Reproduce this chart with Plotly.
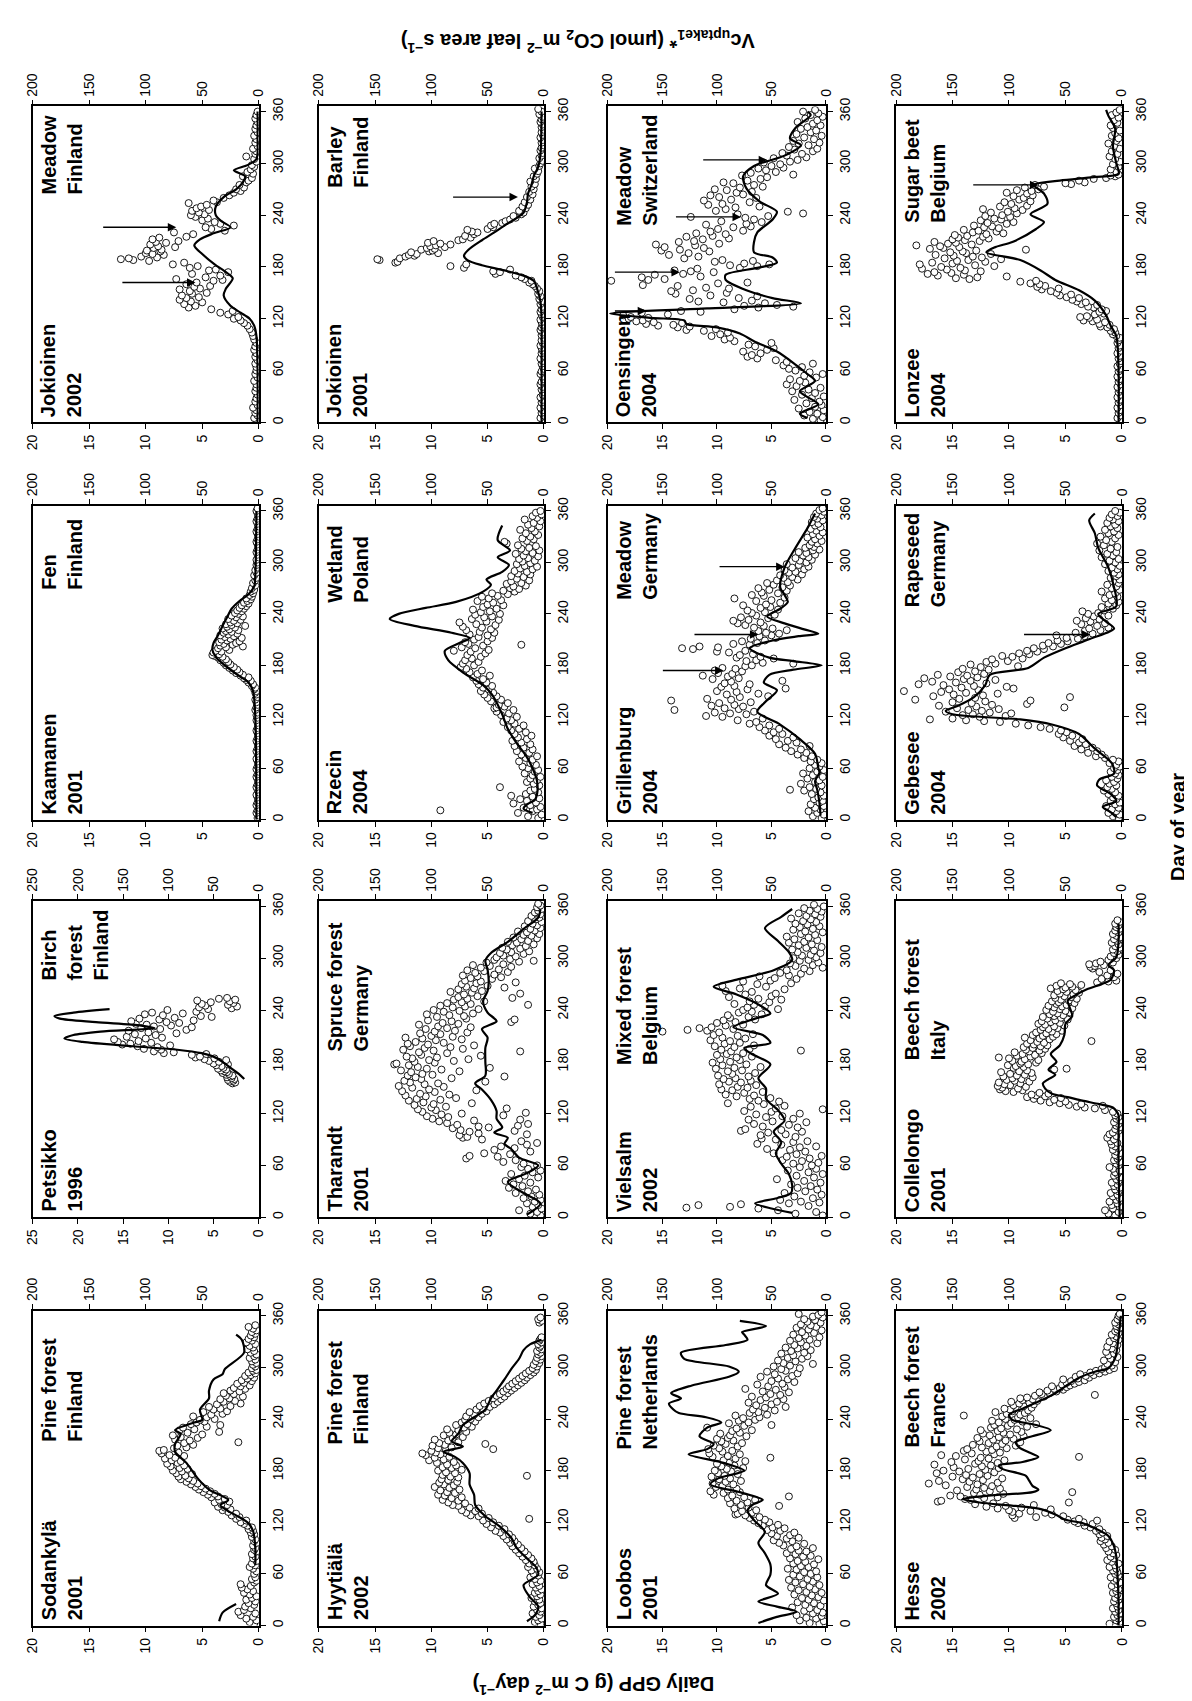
import plotly.graph_objects as go

W, H = 1192, 1701
COLS_PX = [(17, 246), (307, 535), (600, 821), (892, 1121)]
ROWS_PX = [(90, 408), (492, 808), (890, 1208), (1302, 1619)]
DAY_MAX = 366
DAY_TICKS = [0, 60, 120, 180, 240, 300, 360]

# ---------------- data: (day, GPP) points, (day, Vc) line, arrows (day, tail GPP, head GPP)
JOK02_PTS = [(2,0.2),(5,0.4),(8,0.1),(11,0.3),(14,0.2),(17,0.5),(20,0.1),(24,0.3),(28,0.2),(32,0.1),(36,0.3),(40,0.2),(44,0.2),(48,0.4),(52,0.1),(56,0.3),(60,0.2),(64,0.2),(68,0.3),(72,0.1),(76,0.3),(80,0.2),(84,0.4),(88,0.3),(92,0.2),(96,0.4),(100,0.5),(104,0.6),(108,0.8),
 (112,1.0),(115,1.3),(118,1.6),(120,2.2),(122,1.8),(125,2.7),(127,3.4),(129,2.3),
 (131,4.2),(133,6.2),(135,5.6),(137,6.6),(139,5.0),(140,6.0),(142,7.0),(144,6.4),(145,5.3),(147,6.8),(149,5.9),(150,4.6),(152,6.1),(154,7.0),(155,5.2),(157,5.7),(158,4.3),(160,6.4),(162,5.5),(164,4.0),(165,3.2),(166,7.3),(168,4.7),(170,3.4),(172,5.9),(174,2.7),(176,4.4),(177,3.8),
 (179,6.1),(181,5.4),(183,7.6),(185,6.6),(187,9.7),(188,11.1),(189,12.2),(190,11.5),(191,9.0),(192,10.4),(194,8.4),(195,9.4),(196,10.0),(198,8.7),(199,9.9),(200,8.6),(202,9.3),(203,7.4),(204,8.9),(206,9.6),(208,8.2),(209,9.1),(210,7.1),(212,9.4),(214,8.8),(215,6.4),
 (218,5.8),(220,7.5),(222,3.0),(224,4.2),(226,4.7),(228,2.2),(230,3.4),(232,3.9),(234,5.0),(236,4.5),(238,5.6),(240,6.0),(241,4.8),(243,5.3),(245,5.9),(246,4.4),(248,5.5),(250,5.1),(252,4.6),(254,6.2),(255,3.7),(257,4.0),
 (260,3.1),(263,2.6),(266,2.2),(268,1.6),(270,2.0),(272,1.3),(275,1.7),(278,1.1),(280,0.9),(283,0.6),(285,1.4),(288,0.5),(290,1.0),(293,0.7),(296,0.4),(298,0.6),
 (302,0.2),(305,0.4),(308,1.1),(311,0.3),(314,0.2),(317,0.5),(320,0.1),(324,0.3),(328,0.2),(332,0.4),(336,0.1),(340,0.3),(344,0.2),(348,0.1),(352,0.3),(356,0.2),(360,0.1)]
JOK02_LINE = [(0,1),(60,1),(100,2),(112,4),(120,8),(127,16),(135,25),(147,31),(155,29),(167,23),(175,30),(183,39),(195,50),(205,57),(212,52),(219,40),(226,25),(233,33),(240,38),(250,38),(261,31),(270,20),(278,14),(285,12),(292,22),(298,10),(305,2),(330,1),(360,1)]
JOK02_ARROWS = [(162, 12.2, 5.6), (226, 13.9, 7.3)]

JOK01_PTS = [(2,0.1),(5,0.3),(8,0.0),(11,0.2),(14,0.1),(17,0.3),(20,0.0),(23,0.2),(26,0.1),(29,0.3),(32,0.1),(35,0.0),(38,0.2),(41,0.1),(44,0.3),(47,0.2),(50,0.0),(53,0.1),(56,0.3),(59,0.2),(62,0.0),(65,0.1),(68,0.2),(71,0.1),(74,0.3),(77,0.0),(80,0.2),(83,0.1),(86,0.2),(89,0.3),(92,0.1),(95,0.2),(98,0.0),(101,0.2),(104,0.1),(107,0.3),(110,0.2),(113,0.1),(116,0.2),(119,0.3),(122,0.1),(125,0.2),(128,0.3),(131,0.2),(134,0.1),(137,0.3),(140,0.2),(143,0.4),(146,0.3),(149,0.5),
 (152,0.4),(155,0.6),(158,0.8),(160,1.0),(162,1.3),(164,1.1),(166,1.7),(168,2.0),(170,2.5),
 (172,4.3),(174,3.9),(175,4.5),(177,3.0),(179,7.1),(181,8.3),(183,6.9),
 (185,13.2),(186,13.0),(188,14.6),(189,14.8),(190,12.8),(192,12.3),(193,11.5),(194,12.0),(195,11.3),(196,9.4),(197,11.8),(198,10.2),(199,9.9),(200,10.9),(201,9.7),(202,10.4),(203,8.8),(204,10.1),(205,9.6),(206,8.3),(207,9.2),(208,10.3),(210,9.8),(211,7.6),(212,7.2),(214,6.5),(216,7.0),(218,6.2),(220,5.9),(221,6.4),(223,6.8),(224,5.0),(226,4.5),(228,4.7),(230,4.4),(231,3.7),(233,3.4),(235,3.0),(237,2.5),(239,2.7),(241,2.0),(243,1.8),(245,2.2),(248,1.6),(250,1.9),(252,1.4),(255,1.7),(258,1.2),(261,1.5),(264,1.0),(267,1.3),(270,0.9),(273,1.1),(276,0.8),(279,1.2),(282,0.7),(285,0.9),(288,0.6),(291,0.5),(294,0.8),(297,0.4),
 (300,0.3),(303,0.1),(306,0.4),(309,0.2),(312,0.1),(315,0.3),(318,0.2),(321,0.0),(324,0.2),(327,0.1),(330,0.3),(333,0.1),(336,0.2),(339,0.0),(342,0.2),(345,0.1),(348,0.3),(351,0.2),(354,0.1),(357,0.4),(360,0.2),(363,0.5)]
JOK01_LINE = [(0,2),(60,2),(120,2),(140,3),(155,6),(164,9),(170,18),(176,35),(182,55),(188,68),(193,71),(200,67),(211,55),(220,44),(228,35),(236,25),(243,18),(255,15),(265,14),(275,11),(285,9),(296,5),(310,3),(360,2)]
JOK01_ARROWS = [(261, 8.2, 2.3)]

OENS_PTS = [(2,0.5),(4,1.2),(6,0.3),(8,2.0),(10,0.8),(12,1.5),(14,0.2),(16,2.5),(18,1.0),(20,0.4),(22,1.8),(24,0.6),(26,2.9),(28,1.3),(30,0.2),(32,2.2),(34,1.0),(36,3.1),(38,1.6),(40,0.5),(42,2.7),(44,3.6),(46,1.9),(48,2.4),(50,3.3),(52,0.9),(54,2.0),(56,0.3),(58,1.5),(60,2.8),
 (62,3.4),(64,2.2),(66,3.9),(68,1.2),(70,3.6),(72,4.6),(74,6.3),(76,7.2),(78,6.8),(80,6.0),(82,7.6),(84,5.4),(86,4.8),(88,6.5),(90,7.1),(92,5.0),(94,8.4),(96,9.3),(98,8.8),(100,10.5),(102,9.7),
 (104,9.0),(106,11.2),(107,12.8),(108,10.1),(110,13.6),(111,12.5),(112,15.4),(113,14.0),(114,16.5),(115,13.2),(116,15.8),(117,17.4),(118,16.8),(120,18.1),(121,16.3),(122,17.9),(124,18.6),(125,14.5),(127,16.9),(128,11.5),(129,13.3),
 (131,8.4),(133,6.2),(134,3.0),(135,7.5),(136,4.5),(138,5.6),(139,9.4),(140,11.7),(141,6.8),(143,12.5),(144,8.0),(146,6.3),(147,10.6),(149,13.8),(150,9.1),(152,14.2),(153,12.2),(155,8.9),(156,11.0),(158,13.6),(159,16.8),(161,9.9),(162,7.2),(164,19.7),(165,16.3),(166,14.8),(168,16.9),(169,11.5),(171,15.7),(172,13.1),(174,10.3),(175,12.4),(176,13.9),(178,11.8),(179,7.9),
 (181,6.3),(182,8.8),(183,5.2),(184,7.5),(186,10.2),(187,6.7),(188,9.5),(190,13.0),(192,11.7),(194,14.4),(196,12.6),(198,10.7),(199,15.1),(200,13.4),(202,11.2),(203,14.8),(205,12.0),(206,15.6),(207,9.8),(209,13.5),(210,12.1),(212,11.3),(213,8.9),(215,12.8),(216,10.4),(218,9.2),(219,11.9),(221,10.6),(222,7.6),(224,9.9),(226,8.5),(227,6.9),(229,11.0),(230,7.3),(232,5.9),(233,9.6),(235,6.6),(237,7.4),(238,12.4),(239,5.3),(241,8.1),(242,2.1),(244,3.5),(245,10.1),(247,9.2),(249,8.3),(250,6.1),(252,10.8),(253,9.5),(255,7.0),(257,11.2),(258,8.7),
 (260,6.4),(261,9.8),(263,10.6),(264,7.6),(266,8.2),(267,6.8),(269,9.1),(270,10.2),(272,7.9),(273,5.8),(275,6.6),(277,8.5),(278,9.4),(280,7.2),(282,6.0),(284,5.4),(286,7.7),(287,3.0),(289,6.9),(290,4.6),(292,5.5),(294,6.2),(295,3.9),(297,5.0),(299,4.2),
 (301,5.7),(302,3.3),(304,2.6),(306,4.8),(307,1.8),(309,3.6),(311,2.2),(312,4.0),(314,1.2),(316,2.9),(317,0.8),(319,3.4),(321,1.6),(323,2.5),(324,0.6),(326,3.0),(328,1.1),(330,2.0),(332,0.4),(334,2.7),(336,1.4),(338,0.9),(340,2.3),(342,1.7),(344,0.5),(346,1.2),(348,2.6),(350,0.8),(352,1.9),(354,0.3),(356,1.4),(358,0.7),(360,2.1),(362,1.0)]
OENS_LINE = [(5,17),(10,24),(21,7),(30,18),(36,24),(48,10),(56,17),(67,28),(82,45),(94,66),(103,79),(110,100),(114,128),(118,130),(121,160),(126,198),(132,109),(138,23),(144,49),(153,73),(165,92),(171,92),(179,63),(185,45),(191,49),(197,66),(209,66),(220,63),(235,49),(244,45),(256,61),(271,73),(285,76),(297,66),(309,38),(321,23),(329,33),(341,28),(356,14),(360,17)]
OENS_ARROWS = [(129, 19.5, 16.5), (174, 19.5, 13.4), (238, 13.9, 7.8), (304, 11.4, 5.4)]

LONZ_PTS = [(2,0.2),(5,0.4),(8,0.1),(11,0.3),(14,0.2),(17,0.4),(20,0.1),(23,0.3),(26,0.2),(29,0.4),(32,0.1),(35,0.3),(38,0.2),(41,0.4),(44,0.1),(47,0.3),(50,0.2),(53,0.4),(56,0.1),(59,0.3),(62,0.2),(65,0.4),(68,0.2),(71,0.1),(74,0.3),(77,0.2),(80,0.4),(83,0.1),(86,0.3),(89,0.2),(92,0.4),(95,0.3),(98,0.2),
 (100,0.5),(102,0.8),(104,0.6),(106,1.0),(108,0.7),(110,1.3),(111,1.9),(113,1.1),(114,2.0),(116,1.5),(117,2.6),(118,3.4),(119,2.2),(121,2.9),(122,3.7),(123,3.1),(125,2.4),(126,1.6),(128,2.0),(129,1.4),(131,1.8),(133,2.5),(134,3.0),(136,2.2),(137,3.6),(139,3.2),(140,4.0),
 (142,4.4),(144,3.8),(145,4.9),(147,5.5),(148,4.5),(150,5.8),(152,6.3),(154,7.1),(155,5.6),(157,7.5),(158,6.8),(160,7.3),(161,8.1),(163,9.0),(164,7.6),
 (166,13.5),(167,14.7),(168,12.8),(169,10.2),(170,16.3),(171,14.0),(172,17.2),(173,15.1),(174,16.6),(175,12.5),(176,13.9),(177,15.5),(178,17.7),(179,14.3),(180,16.0),(181,11.3),(182,13.0),(183,17.9),(184,15.0),(185,16.8),(186,12.1),(187,14.6),(188,13.6),(189,10.7),(190,15.7),(191,12.4),(192,13.2),(193,14.9),(194,16.5),(195,11.6),(196,13.8),(197,15.2),(198,14.1),(199,12.9),(200,8.5),
 (201,17.0),(202,15.8),(203,14.4),(204,16.1),(205,18.2),(206,13.3),(207,15.4),(208,14.7),(209,16.6),(210,12.6),(211,13.9),(212,15.0),(213,11.8),(214,14.5),(215,12.3),(216,13.7),(217,14.8),(218,12.0),(219,10.5),(220,13.2),(221,11.1),(222,12.7),(223,14.0),(225,10.9),(226,12.2),(227,11.5),(228,13.1),(230,10.2),(231,11.9),(232,9.6),(234,12.5),(235,10.7),(236,11.3),(238,9.9),(239,12.1),(240,10.6),(242,9.3),(243,11.6),(244,10.1),(246,8.8),(247,12.3),(248,9.5),(250,10.8),(251,8.4),(253,9.8),(255,10.4),(256,8.1),(258,9.1),
 (260,8.7),(262,9.6),(263,7.9),(265,8.4),(266,10.2),(268,8.0),(269,9.3),(270,7.4),(272,8.6),(273,6.9),(275,7.7),(276,4.5),(277,5.0),(278,3.3),(280,3.8),(282,2.5),(283,1.4),(285,0.6),(286,1.0),(287,0.3),
 (290,0.5),(293,1.0),(296,0.3),(299,0.8),(302,0.2),(305,0.6),(308,1.1),(311,0.4),(314,0.9),(317,0.2),(320,0.7),(323,1.2),(326,0.5),(329,0.3),(332,0.9),(335,0.6),(338,0.2),(341,0.8),(344,1.0),(347,0.4),(350,0.7),(353,0.3),(356,0.9),(359,0.5),(362,0.2)]
LONZ_LINE = [(0,3),(60,3),(100,5),(112,10),(124,14),(141,24),(153,38),(165,59),(176,72),(188,90),(197,120),(203,112),(209,97),(224,76),(232,69),(241,81),(253,66),(265,69),(275,78),(280,55),(284,25),(288,3),(300,5),(320,8),(340,6),(355,12),(362,14)]
LONZ_ARROWS = [(275, 13.3, 7.4)]

KAAM_PTS = [(2,0.1),(5,0.0),(8,0.2),(11,0.1),(14,0.0),(17,0.2),(20,0.1),(23,0.0),(26,0.1),(29,0.2),(32,0.0),(35,0.1),(38,0.2),(41,0.1),(44,0.0),(47,0.1),(50,0.2),(53,0.1),(56,0.0),(59,0.2),(62,0.1),(65,0.0),(68,0.1),(71,0.2),(74,0.0),(77,0.1),(80,0.2),(83,0.1),(86,0.0),(89,0.1),(92,0.2),(95,0.1),(98,0.0),(101,0.1),(104,0.2),(107,0.1),(110,0.0),(113,0.1),(116,0.2),(119,0.1),(122,0.2),(125,0.1),(128,0.3),(131,0.2),(134,0.1),(137,0.2),(140,0.3),(143,0.1),(146,0.2),(148,0.3),
 (150,0.2),(152,0.4),(154,0.3),(156,0.6),(158,0.5),(160,0.9),(162,0.7),(163,1.1),(165,1.3),(166,0.9),(168,1.6),(169,1.4),(171,2.0),(172,1.7),(174,2.3),(175,1.9),(177,2.6),(178,2.2),(180,2.9),
 (181,2.5),(183,3.1),(184,2.7),(186,3.4),(187,2.9),(189,3.6),(190,3.2),(191,3.9),(192,4.1),(193,3.5),(195,4.0),(196,3.3),(197,3.8),(198,2.6),(200,3.6),(201,2.9),(202,1.4),(203,3.4),(204,2.3),(205,3.1),(206,2.0),(207,3.5),(208,1.7),(209,2.8),(210,3.3),
 (211,2.5),(212,1.5),(213,3.0),(214,2.2),(215,3.4),(216,2.7),(217,1.9),(218,3.1),(219,2.4),(220,2.9),(221,1.8),(222,2.6),(223,3.2),(224,2.1),(225,2.8),(226,1.2),(227,2.4),(228,2.9),(229,1.9),(230,2.5),(232,2.2),(233,1.6),(234,2.7),(236,2.0),(237,1.4),(238,2.4),(240,1.8),(241,2.1),(243,1.5),(244,1.9),(246,1.3),(247,1.7),(249,1.1),(250,1.5),(252,0.9),(253,1.3),(255,1.0),(257,0.7),(258,1.1),(260,0.6),
 (262,0.8),(264,0.5),(266,0.7),(268,0.4),(270,0.6),(273,0.3),(276,0.5),(279,0.3),(282,0.2),(285,0.4),(288,0.2),(291,0.3),(294,0.1),(297,0.2),
 (300,0.1),(303,0.2),(306,0.0),(309,0.1),(312,0.2),(315,0.1),(318,0.0),(321,0.1),(324,0.2),(327,0.1),(330,0.0),(333,0.1),(336,0.2),(339,0.1),(342,0.0),(345,0.1),(348,0.2),(351,0.1),(354,0.0),(357,0.1),(360,0.2),(363,0.1)]
KAAM_LINE = [(0,2),(120,3),(150,5),(160,9),(170,20),(180,30),(190,38),(198,41),(206,40),(215,36),(226,32),(236,28),(246,24),(255,17),(263,9),(272,4),(285,3),(360,2)]
KAAM_ARROWS = []

RZEC_PTS = [(2,0.5),(4,1.4),(6,0.2),(8,2.3),(10,1.0),(11,9.2),(12,0.6),(14,1.8),(15,0.3),(17,1.2),(19,2.7),(20,0.7),(22,1.5),(24,2.1),(25,0.4),(27,1.0),(28,2.9),(30,1.6),(32,0.5),(34,1.2),(36,0.8),(38,3.9),(40,0.4),
 (42,0.9),(44,1.5),(46,0.6),(48,1.2),(50,0.3),(52,1.0),(54,1.7),(56,0.8),(58,0.5),(60,1.4),(62,1.9),(64,0.7),(66,1.2),(68,2.2),(70,1.0),(72,1.6),(74,0.6),(76,2.0),(78,1.3),(80,2.4),(82,1.0),(84,1.8),(86,2.6),(88,1.2),(90,2.0),(92,2.8),(94,1.5),(96,2.3),(98,1.1),(100,2.6),
 (102,1.6),(104,2.9),(106,2.2),(108,3.2),(110,1.8),(112,2.6),(114,3.6),(116,2.9),(118,3.3),(120,2.4),(122,3.8),(124,3.1),(126,4.2),(128,2.7),(130,4.4),(131,4.2),(132,3.5),(134,4.0),(136,3.2),(138,4.7),(140,3.8),(142,5.0),(144,4.2),(146,5.3),(148,4.5),(150,5.6),(152,4.9),(154,5.4),(156,4.6),(158,5.8),(160,5.1),(162,6.0),(164,5.4),(166,6.3),(168,4.8),(170,5.9),(172,6.6),(174,5.5),
 (176,6.9),(178,7.4),(180,6.2),(182,7.2),(184,5.8),(186,7.0),(188,6.4),(190,5.6),(192,6.8),(194,5.2),(196,6.5),(197,8.0),(198,4.9),(200,6.1),(201,7.3),(203,5.4),(204,2.0),(205,6.7),(207,7.0),(208,5.0),(210,6.2),(212,4.6),(213,5.8),(215,5.0),(216,6.6),(218,4.4),(219,5.7),(221,6.9),(222,4.7),(224,5.5),(225,7.2),(227,4.3),(228,6.0),(230,7.5),(231,5.1),(233,4.0),(234,6.4),(236,5.3),(237,4.6),(239,6.1),(240,3.9),(242,5.6),(243,4.8),(245,6.3),(246,4.2),(248,5.4),(250,3.6),(251,5.0),(253,4.5),(255,5.9),(256,3.8),(258,4.9),
 (260,5.5),(261,4.1),(263,3.2),(264,4.6),(266,2.6),(267,3.6),(269,2.2),(270,3.0),(272,2.7),(273,1.6),(275,3.3),(276,2.0),(278,2.9),(279,1.3),(281,2.4),(283,1.8),(284,2.9),(286,1.2),(287,2.3),(289,1.5),(290,2.6),(292,1.0),(293,2.1),(295,0.6),(296,1.7),(298,2.4),(299,1.2),
 (301,1.9),(302,0.8),(304,2.2),(305,1.4),(307,0.5),(308,1.8),(310,2.5),(311,1.0),(313,1.6),(314,0.4),(316,2.0),(317,1.3),(319,0.7),(320,2.3),(322,3.3),(324,3.5),(325,1.5),(327,0.9),(328,1.9),(330,1.2),(332,0.5),(334,1.6),(336,0.8),(338,2.1),(340,1.1),(342,0.4),(344,1.4),(346,0.9),(348,0.3),(350,1.7),(352,0.6),(354,1.0),(356,0.2),(358,0.7),(360,0.3)]
RZEC_LINE = [(8,10),(13,18),(18,15),(23,8),(30,6),(45,6),(60,10),(75,16),(89,24),(106,32),(123,37),(146,46),(157,54),(171,71),(186,85),(197,88),(206,75),(212,66),(218,82),(226,115),(234,137),(240,129),(247,105),(254,78),(266,54),(274,47),(280,51),(289,37),(297,31),(306,41),(314,30),(326,41),(343,37)]
RZEC_ARROWS = []

GRIL_PTS = [(2,0.4),(4,1.2),(6,0.2),(8,0.8),(10,1.6),(12,0.5),(14,1.0),(16,0.2),(18,1.4),(20,0.6),(22,0.3),(24,1.1),(26,0.7),(28,0.2),(30,1.3),(32,0.5),(34,2.0),(35,3.3),(36,0.9),(38,1.5),(40,0.4),(42,2.3),(44,1.0),(46,0.6),(48,1.7),(50,0.3),(52,1.2),(54,2.1),(56,0.8),(58,0.2),(60,1.5),
 (62,0.6),(64,1.0),(66,0.4),(68,1.4),(70,0.8),(72,2.0),(74,1.3),(76,2.6),(78,1.8),(80,3.2),(82,2.3),(84,3.7),(86,1.5),(88,4.3),(90,2.7),(92,3.5),(94,4.6),(96,3.0),(98,5.2),(100,4.0),
 (102,4.8),(104,5.6),(106,4.3),(108,6.1),(110,5.2),(112,7.0),(114,6.4),(116,8.1),(118,5.8),(120,9.5),(121,11.0),(123,7.3),(124,8.8),(125,10.2),(126,6.6),(128,13.9),(129,8.0),(130,9.3),(132,7.6),(133,10.5),(134,8.4),(136,9.8),(137,6.9),(139,14.2),(140,8.7),(141,10.9),(143,7.9),(144,5.3),(146,9.1),(147,6.2),(149,8.2),(150,10.0),(152,7.2),(153,3.7),(155,9.6),(156,8.4),(158,7.0),(159,9.3),(161,8.7),(162,4.0),(164,10.4),(165,8.0),(167,9.0),(168,11.3),(170,8.6),(171,9.9),(173,7.7),(174,10.2),(176,8.3),(177,9.5),(179,7.4),
 (180,6.8),(182,3.0),(183,5.8),(185,7.3),(186,6.4),(188,4.8),(189,8.2),(190,6.0),(192,7.9),(193,6.7),(195,8.9),(196,10.0),(197,7.4),(199,12.2),(200,13.2),(201,9.9),(202,11.6),(204,7.0),(205,8.5),(206,6.3),(208,7.7),(209,5.6),(211,6.9),(212,4.6),(214,6.1),(215,5.0),(217,4.3),(218,5.5),(220,6.2),(221,3.6),(223,4.9),(224,6.6),(226,5.7),(227,7.4),(229,8.1),(230,6.0),(232,8.5),(233,7.1),(235,5.3),(236,7.8),(238,6.4),(239,4.7),(241,6.8),(242,5.6),(244,7.2),(245,4.4),(247,6.0),(248,5.1),(250,7.6),(251,5.5),(253,4.2),(255,6.4),(256,5.0),(258,8.4),(259,3.8),
 (261,5.7),(262,6.8),(264,4.4),(265,5.9),(267,3.6),(268,5.2),(270,6.2),(271,4.0),(273,3.3),(274,4.8),(276,5.4),(277,3.5),(279,4.5),(280,2.6),(282,3.9),(283,3.1),(285,4.2),(286,2.2),(288,3.4),(289,2.8),(291,3.8),(292,2.0),(294,3.1),(295,1.6),(297,2.5),(298,3.6),(300,1.8),
 (302,2.4),(303,1.3),(305,2.8),(306,1.6),(308,2.1),(309,1.0),(311,1.8),(312,2.5),(314,1.2),(315,0.6),(317,1.9),(318,1.1),(320,1.5),(322,0.8),(324,1.3),(325,0.4),(327,1.0),(329,1.7),(331,0.6),(333,1.2),(335,0.3),(337,0.9),(339,1.4),(341,0.5),(343,1.0),(345,0.7),(347,1.3),(349,0.3),(351,0.8),(353,1.1),(355,0.4),(357,0.9),(359,0.2),(361,0.6),(363,0.3)]
GRIL_LINE = [(5,5),(20,6),(35,8),(45,10),(55,6),(60,7),(77,10),(94,24),(111,42),(126,63),(137,56),(151,45),(160,57),(169,52),(175,30),(180,4),(185,30),(189,52),(200,70),(209,49),(214,25),(217,7),(222,20),(229,38),(237,54),(246,42),(254,35),(262,38),(271,42),(294,38),(317,28),(340,17),(357,10)]
GRIL_ARROWS = [(174, 15.1, 9.4), (216, 12.2, 6.2), (295, 9.9, 3.8)]

GEBE_PTS = [(2,0.3),(4,0.8),(6,0.2),(8,1.2),(10,0.5),(12,0.9),(14,0.3),(16,1.4),(18,0.6),(20,0.2),(22,1.0),(24,0.5),(26,0.8),(28,0.3),(30,1.2),(32,0.6),(34,1.6),(36,0.9),(38,1.3),(40,0.5),(42,1.1),(44,0.7),(46,1.4),(48,0.4),(50,0.9),(52,0.3),(54,0.6),(56,1.0),(58,0.4),(60,0.7),(62,0.2),(64,0.5),(66,1.1),(68,0.3),(70,0.8),
 (72,1.5),(74,2.3),(76,1.8),(78,3.0),(80,2.2),(82,3.6),(84,2.6),(86,4.2),(88,3.2),(90,3.8),(92,4.6),(94,3.5),(96,5.2),(98,4.4),(100,5.6),(102,4.9),(104,5.4),(106,6.4),(108,7.2),(110,8.3),(112,9.4),(114,10.8),(115,12.2),
 (116,13.8),(117,17.0),(118,15.0),(120,12.6),(121,10.3),(122,14.1),(123,13.2),(124,9.8),(125,11.7),(126,15.6),(127,12.4),(128,13.6),(129,10.9),(130,14.6),(131,5.1),(132,12.9),(133,16.2),(134,11.5),(135,8.4),(136,13.3),(137,15.0),(138,12.1),(139,8.1),(140,18.3),(141,14.4),(142,13.0),(143,4.6),(144,16.7),(145,12.3),(146,14.9),(147,11.0),(148,13.8),(149,16.0),(150,19.3),(151,12.7),(152,15.3),(153,9.6),(154,14.2),(155,10.2),(156,13.1),(157,15.8),(158,18.0),(159,12.0),(160,14.7),(161,16.8),(162,13.4),(163,11.2),(164,14.0),(165,17.5),(166,12.8),(167,15.2),(168,13.7),(169,16.3),(170,12.2),(172,14.5),(173,13.0),(175,11.8),(176,14.1),(178,12.5),(179,9.2),
 (181,13.4),(182,11.2),(184,12.0),(185,10.1),(187,11.5),(188,8.8),(190,9.7),(191,10.6),(193,8.2),(194,9.1),(196,7.5),(197,8.4),(199,6.9),(200,7.8),(202,6.1),(203,7.0),(205,5.4),(206,6.5),(208,4.8),(209,5.7),(211,3.9),(212,4.9),(214,3.3),(215,5.8),(217,2.6),(218,4.1),(220,3.3),(221,1.9),(223,2.9),(224,1.2),
 (226,2.2),(228,3.6),(229,1.5),(231,2.8),(232,4.0),(234,2.0),(235,3.2),(237,2.5),(238,1.2),(240,3.0),(241,2.1),(243,3.5),(244,1.6),(246,0.8),(248,1.8),(250,0.5),(252,1.2),(254,0.3),(256,0.9),(258,1.5),(260,0.4),(262,1.1),(264,0.6),(266,1.8),(268,0.2),(270,0.9),(272,0.5),(274,1.3),(276,0.3),(278,0.8),(280,0.2),(282,1.0),(284,0.5),(286,0.3),(288,0.7),(290,1.2),(292,0.4),(294,0.9),(296,0.2),(298,1.5),(300,0.6),(302,1.1),(304,0.3),(306,1.8),(308,0.8),(310,1.3),(312,0.5),(314,2.0),(316,1.0),(318,0.4),(320,1.6),(322,2.2),(324,0.9),(326,1.4),(328,0.6),(330,1.9),(332,0.3),(334,1.2),(336,0.7),(338,1.5),(340,0.4),(342,1.0),(344,0.6),(346,1.3),(348,0.3),(350,0.8),(352,1.1),(354,0.4),(356,0.9),(358,0.2),(360,0.6)]
GEBE_LINE = [(3,5),(9,10),(15,17),(22,5),(30,10),(40,22),(47,20),(54,7),(66,9),(83,24),(100,38),(111,62),(117,90),(123,150),(127,156),(133,145),(143,131),(157,121),(169,117),(177,83),(189,69),(200,50),(211,28),(223,7),(231,14),(240,21),(249,5),(271,7),(294,12),(317,21),(334,24),(349,29),(357,24)]
GEBE_ARROWS = [(216, 8.8, 2.8)]

PETS_PTS = [(155,2.9),(156,2.6),(157,3.2),(158,2.8),(159,3.4),(160,2.7),(161,3.0),(162,3.5),(163,3.1),(164,2.9),(165,3.6),(166,3.3),(167,4.0),(168,3.5),(169,3.8),(170,4.2),(171,3.6),(172,4.5),(173,3.9),(175,4.1),(176,4.7),(177,3.4),(178,5.0),(180,4.4),(181,5.5),(182,3.6),(183,6.0),(184,4.9),(185,7.0),(186,6.5),(188,7.4),(189,5.8),(190,10.5),(191,9.4),(192,11.6),(194,10.8),(195,12.7),(197,11.2),(198,13.4),(199,9.8),(200,15.1),(201,14.2),(202,11.9),(203,15.6),(204,13.3),(206,16.0),(207,12.5),(208,10.7),(209,14.6),(211,11.4),(212,13.7),(213,9.1),(214,12.2),(216,14.4),(217,8.0),(218,10.9),(219,13.0),(220,7.4),(221,11.6),(222,9.7),(223,12.4),(224,13.6),(225,8.8),(226,10.2),(227,14.1),(228,7.2),(229,11.0),(230,13.2),(231,9.3),(232,5.2),(233,6.4),(234,10.6),(235,12.6),(236,8.4),(237,11.8),(238,6.9),(240,10.1),(241,5.6),(242,3.0),(243,6.6),(244,2.4),(245,5.9),(246,3.4),(247,6.3),(248,2.8),(249,5.3),(250,3.2),(251,6.8),(252,2.6),(253,4.4),(254,3.5)]
PETS_LINE = [(160,16),(166,22),(172,30),(180,40),(186,50),(190,63),(194,90),(198,140),(203,195),(207,215),(211,205),(215,175),(219,115),(222,130),(226,180),(230,220),(233,226),(237,205),(241,165)]
PETS_ARROWS = []

THAR_PTS = [(2,0.3),(4,1.2),(6,0.6),(8,2.2),(10,0.2),(12,1.0),(14,0.5),(16,1.5),(18,0.8),(20,0.3),(22,1.8),(24,1.1),(26,0.4),(28,2.5),(30,1.4),(32,0.7),(34,3.1),(36,1.9),(38,2.7),(40,1.2),(42,3.4),(44,2.2),(46,0.5),(48,1.7),(50,2.9),(52,1.0),(54,0.3),(56,1.4),(58,2.0),(60,0.6),
 (62,1.8),(64,3.6),(66,2.5),(68,6.9),(70,4.1),(71,6.6),(73,3.0),(74,5.3),(76,1.2),(78,4.4),(80,2.6),(82,3.8),(84,1.5),(86,0.6),(88,2.0),(90,5.5),(92,7.2),(93,6.8),(95,7.5),
 (96,1.5),(97,5.8),(99,6.6),(100,2.6),(101,7.4),(103,8.1),(104,4.9),(105,5.8),(106,2.3),(107,7.7),(108,1.4),(109,8.6),(111,9.3),(112,6.2),(113,2.1),(114,9.9),(116,8.5),(117,10.4),(118,3.6),(119,9.1),(120,7.3),(121,1.6),(122,10.8),(124,9.6),(125,11.2),(126,3.3),(127,10.0),(128,8.7),(130,11.5),(131,9.8),(132,6.4),(133,10.7),(135,12.0),(136,9.2),(137,11.3),(138,7.8),(140,10.5),(141,12.3),(142,8.4),(143,11.0),(145,9.7),(146,12.6),(147,6.0),(148,10.2),(150,11.7),(151,8.9),(152,12.9),(154,10.6),(155,9.4),(156,11.9),(157,5.2),(158,12.4),(160,10.9),(161,8.2),(162,11.4),(163,3.5),(164,12.1),(165,9.9),(166,10.8),(168,11.8),(169,7.5),(170,12.7),(171,9.1),(172,10.4),(173,4.8),(174,11.2),(176,12.0),(177,13.3),(178,13.1),(179,9.7),(180,11.5),(181,8.0),(182,10.2),(183,6.7),(184,11.7),(185,9.5),(186,12.2),(187,5.6),(188,10.9),(190,8.6),(191,11.1),(192,2.1),(193,9.8),(194,12.5),(195,7.2),(196,10.6),(197,8.3),(198,11.9),(199,6.2),
 (200,10.3),(201,12.1),(202,8.9),(203,11.4),(205,9.6),(206,7.3),(207,10.8),(208,12.3),(209,8.1),(210,10.0),(212,9.2),(213,11.0),(214,6.8),(215,9.7),(216,7.9),(218,10.5),(219,8.6),(220,6.5),(221,9.4),(223,11.1),(224,7.6),(225,9.0),(226,2.9),(227,8.2),(228,10.3),(229,2.6),(230,6.9),(232,9.5),(233,7.1),(234,8.4),(235,10.4),(236,6.3),(238,8.9),(239,7.5),(240,9.8),(241,5.8),(243,8.1),(244,7.0),(245,9.2),(246,1.4),(247,6.5),(248,8.6),(249,7.3),(250,5.3),(252,8.0),(253,6.8),(254,2.8),(255,7.6),(256,5.9),(258,7.1),(259,2.1),
 (260,6.4),(261,8.3),(262,5.5),(264,7.6),(265,6.2),(266,3.5),(267,6.9),(268,5.0),(270,7.3),(271,6.0),(272,2.5),(273,5.6),(274,7.0),(276,4.6),(277,6.5),(278,3.8),(279,5.9),(280,7.2),(281,4.4),(283,6.1),(284,3.2),(285,5.3),(286,6.8),(287,4.0),(289,5.6),(290,2.9),(291,4.8),(292,6.3),(293,3.6),(295,5.1),(296,2.2),(297,0.9),(298,4.4),(299,3.0),
 (301,4.2),(302,2.5),(303,3.6),(305,1.8),(306,3.9),(307,2.9),(308,1.3),(310,3.3),(311,2.1),(312,3.7),(314,1.6),(315,2.8),(316,0.9),(318,2.4),(319,3.2),(320,1.4),(322,2.0),(323,0.6),(324,2.7),(326,1.1),(327,1.8),(328,0.4),(330,1.5),(331,2.3),(332,0.8),(334,1.2),(335,0.3),(337,1.7),(338,0.6),(340,1.0),(342,0.2),(343,1.4),(345,0.7),(347,0.4),(349,1.1),(351,0.3),(353,0.8),(355,0.5),(357,0.2),(359,0.6),(361,0.3),(363,0.5)]
THAR_LINE = [(3,15),(16,3),(28,18),(41,32),(51,15),(60,5),(69,22),(79,29),(85,35),(92,32),(98,44),(104,37),(114,42),(123,42),(136,47),(148,55),(155,61),(164,52),(180,52),(196,52),(208,50),(218,55),(227,42),(237,50),(250,54),(262,50),(272,49),(287,50),(297,52),(306,47),(319,32),(335,17),(347,5),(357,3)]
THAR_ARROWS = []

VIEL_PTS = [(2,0.3),(4,2.8),(6,0.9),(8,4.4),(10,6.2),(11,12.8),(12,8.8),(13,1.6),(14,11.7),(15,7.8),(16,3.4),(17,0.6),(18,2.3),(20,4.2),(22,1.2),(24,2.9),(26,0.4),(28,3.8),(30,1.9),(32,0.8),(34,2.6),(36,1.4),(38,3.2),(40,0.5),(42,2.0),(44,4.5),(46,1.1),(48,2.7),(50,0.3),(52,1.6),(54,3.5),(56,0.9),(58,2.4),(60,1.3),
 (62,3.0),(63,0.7),(65,2.2),(66,4.0),(68,1.5),(70,3.6),(71,0.4),(73,2.7),(74,4.8),(76,1.9),(78,3.3),(79,5.4),(81,2.4),(82,0.9),(84,4.1),(85,6.3),(87,3.0),(88,1.7),(90,4.6),(91,5.9),(93,2.8),(95,6.0),(96,3.7),(98,5.3),(99,2.2),(100,7.8),
 (101,4.1),(102,7.4),(104,2.6),(105,5.8),(107,3.4),(108,6.6),(110,1.8),(111,4.9),(113,7.1),(114,3.0),(116,5.5),(117,4.0),(119,6.4),(120,2.4),(122,5.0),(123,7.5),(125,0.3),(126,4.6),(128,6.9),(129,3.8),(131,5.7),(132,9.0),(134,4.3),(135,6.2),(137,7.0),(138,5.1),(140,8.2),
 (141,6.6),(142,9.2),(144,7.5),(145,5.8),(147,8.6),(148,9.6),(150,7.2),(151,8.1),(153,6.4),(154,9.8),(156,7.8),(157,8.9),(158,6.9),(160,9.4),(161,8.3),(163,7.1),(164,9.9),(166,8.6),(167,6.5),(169,9.0),(170,7.7),(172,10.1),(173,8.4),(174,6.0),(176,9.5),(177,7.3),(179,10.4),(180,8.8),(182,7.9),(183,9.7),(185,8.2),(186,6.8),(188,10.0),(189,9.1),(190,7.6),(192,8.7),(193,2.3),(194,9.6),(195,7.0),(197,8.4),(198,10.2),(199,6.6),
 (201,9.3),(202,7.9),(204,8.8),(205,10.6),(207,7.4),(208,9.5),(210,8.1),(211,10.3),(212,6.7),(214,9.8),(215,15.0),(216,10.9),(217,12.7),(218,8.5),(219,11.6),(220,10.5),(222,9.2),(223,7.6),(225,10.0),(226,8.3),(228,9.4),(229,6.5),(231,8.8),(232,7.1),(234,9.0),(235,5.9),(237,8.0),(238,6.8),(240,7.6),(241,4.4),(243,7.2),(244,5.6),(246,6.6),(247,8.4),(249,5.2),(250,7.0),(252,4.1),(253,6.2),(255,8.9),(256,5.0),(258,7.4),(259,4.6),(261,6.8),(262,9.2),(264,3.8),(265,7.9),(267,5.5),(268,9.5),(270,6.3),(271,3.2),(273,7.6),(274,5.1),(276,2.7),(277,4.7),(279,6.1),(280,3.4),
 (282,2.3),(283,4.2),(285,1.5),(286,3.6),(288,2.0),(289,0.3),(291,2.8),(292,1.2),(294,3.3),(295,0.7),(297,2.4),(298,1.6),(300,3.0),(301,0.9),(303,2.2),(304,1.4),(306,0.5),(307,2.6),(309,1.1),(310,3.1),(312,1.8),(313,0.4),(315,2.5),(316,1.3),(318,3.4),(319,2.0),(321,0.8),(322,2.9),(324,1.6),(325,3.6),(327,1.0),(328,2.3),(330,0.3),(331,1.9),(333,3.0),(334,1.2),(336,2.4),(337,0.6),(339,1.7),(340,2.8),(342,0.9),(343,2.1),(345,1.4),(346,3.2),(348,0.5),(349,1.8),(351,1.0),(352,2.5),(354,0.4),(355,1.5),(357,0.8),(358,2.0),(360,0.2),(362,1.1)]
VIEL_LINE = [(5,31),(10,50),(16,65),(22,45),(28,32),(37,31),(50,34),(62,41),(74,46),(87,41),(99,48),(112,38),(124,44),(137,55),(149,55),(161,62),(177,51),(189,68),(196,75),(202,51),(211,58),(220,85),(230,65),(236,51),(245,60),(258,82),(267,103),(276,79),(286,48),(298,31),(307,34),(320,44),(335,56),(348,41),(357,31)]
VIEL_ARROWS = []

COLL_PTS = [(2,0.6),(4,1.2),(6,0.3),(8,1.5),(10,0.8),(12,0.2),(14,0.9),(16,0.4),(18,1.1),(20,0.5),(22,0.2),(24,0.8),(26,0.4),(28,1.0),(30,0.3),(32,0.6),(34,0.2),(36,0.7),(38,0.4),(40,0.9),(42,0.3),(44,0.5),(46,0.2),(48,0.7),(50,0.4),(52,0.6),(54,0.2),(56,0.8),(58,1.1),(60,0.3),(62,0.5),(64,0.2),(66,0.7),(68,0.4),(70,0.3),(72,0.6),(74,0.2),(76,0.5),(78,0.8),(80,0.3),(82,0.6),(84,0.9),(86,0.4),(88,1.0),(90,0.7),(92,1.3),(94,0.5),(96,1.1),(98,0.8),(100,0.3),(102,0.6),(104,0.2),(106,0.5),(108,0.3),(110,0.7),(112,0.2),(114,0.5),(116,0.3),(118,0.6),(120,0.4),
 (122,0.8),(124,1.5),(126,2.4),(127,3.3),(128,4.0),(129,1.7),(130,4.7),(131,3.6),(132,5.5),(133,6.4),(134,5.0),(135,7.2),(136,6.0),(137,7.8),(138,5.4),(139,8.4),(140,6.8),(141,7.6),(142,8.0),(143,6.5),(144,7.3),
 (145,9.6),(146,10.3),(147,8.8),(148,10.8),(149,9.2),(150,10.6),(151,8.5),(152,11.0),(153,9.9),(154,10.4),(155,9.0),(156,10.9),(157,8.2),(158,9.5),(159,10.2),(160,8.9),(161,9.7),(162,7.9),(163,10.5),(164,9.3),(165,8.6),(166,9.9),(167,8.0),(168,10.7),(169,9.1),(170,8.4),(171,6.0),(172,4.9),(173,9.6),(174,8.7),(175,9.4),(176,10.1),(177,8.3),(178,9.0),(179,7.6),(180,8.9),(181,9.7),(182,7.4),(183,8.6),(184,10.0),(185,10.9),(186,8.1),(187,9.3),(188,7.7),(189,8.8),(190,7.1),(191,9.5),(192,8.2),(193,7.3),(194,8.5),(195,6.8),(196,7.9),(197,8.7),(198,7.2),(199,6.6),
 (200,7.8),(201,8.4),(202,6.9),(203,7.5),(204,2.7),(205,8.1),(206,6.4),(207,7.3),(208,8.6),(209,6.1),(210,7.0),(211,7.9),(212,5.8),(213,6.7),(214,7.6),(215,6.2),(216,5.3),(217,7.2),(218,6.5),(219,5.7),(220,7.0),(221,6.0),(222,5.1),(223,6.8),(224,7.4),(225,5.5),(226,6.3),(227,7.1),(228,5.9),(229,4.8),(230,6.6),(231,5.4),(232,7.0),(233,6.0),(234,5.2),(235,6.4),(236,5.7),(237,4.6),(238,6.1),(239,5.0),(240,6.7),(241,5.5),(242,4.4),(243,6.0),(244,5.3),(245,6.5),(246,4.9),(247,5.8),(248,4.2),(249,5.6),(250,6.2),(251,4.7),(252,5.4),(253,4.0),(254,5.9),(255,4.5),(256,5.1),(257,6.0),(258,4.3),(259,5.5),(260,3.8),(261,4.9),(262,5.7),(263,4.1),(264,5.2),(265,6.3),(266,5.0),(267,4.4),(268,5.8),(269,3.6),(270,4.6),(271,5.4),(272,2.2),(273,1.2),(274,0.5),
 (276,1.8),(278,0.7),(280,1.3),(282,0.4),(284,2.0),(286,1.0),(288,2.6),(290,2.8),(291,2.4),(292,1.6),(293,2.9),(294,2.3),(295,0.8),(296,1.9),(298,1.2),(300,0.5),(302,1.0),(304,0.3),(306,0.7),(308,0.4),(310,0.8),(312,0.2),(314,0.6),(316,0.3),(318,0.9),(320,0.4),(322,0.7),(324,0.2),(326,0.5),(328,0.8),(330,0.3),(332,0.6),(334,0.2),(336,0.5),(338,0.3),(340,0.6),(342,0.2),(344,0.4)]
COLL_LINE = [(0,2),(60,3),(100,3),(118,3),(123,5),(127,8),(131,20),(135,35),(139,48),(143,62),(149,68),(155,70),(160,65),(165,59),(171,65),(180,58),(189,63),(199,55),(211,51),(224,50),(233,44),(242,46),(251,48),(258,40),(264,31),(270,18),(275,10),(286,7),(292,12),(301,5),(320,3),(340,3)]
COLL_ARROWS = []

SODA_PTS = [(2,0.4),(4,0.8),(6,0.2),(8,1.1),(10,0.5),(12,1.6),(14,0.3),(16,1.8),(18,1.3),(20,0.7),(22,1.2),(24,0.4),(26,0.9),(28,0.3),(30,1.1),(32,0.6),(34,0.2),(36,0.8),(38,1.3),(40,0.5),(42,1.0),(44,1.5),(46,0.7),(48,1.6),(50,0.4),(52,0.2),(54,0.6),(56,0.3),
 (60,0.4),(63,0.2),(66,0.5),(68,0.8),(70,0.3),(72,0.6),(75,0.2),(78,0.5),(80,0.3),(83,0.6),(86,0.2),(88,0.4),(90,0.3),(93,0.5),(96,0.2),(98,0.4),(100,0.3),(103,0.6),(106,0.4),(108,0.7),(110,0.5),(112,0.9),(114,0.6),(116,1.0),
 (118,1.3),(120,1.6),(122,1.1),(124,2.0),(126,1.7),(128,2.4),(130,2.0),(132,2.7),(134,3.2),(135,2.5),(137,3.0),(138,3.6),(140,2.8),(141,3.3),(143,3.9),(144,2.6),(146,3.5),(147,3.0),(149,4.2),(150,3.6),(152,4.5),(153,3.9),(155,4.9),(156,4.3),(158,5.3),
 (159,4.7),(161,5.6),(162,5.1),(164,6.0),(165,5.4),(167,6.4),(168,5.8),(170,6.9),(171,6.2),(173,7.1),(174,6.5),(176,5.9),(177,7.3),(179,6.8),(180,7.6),(182,6.3),(183,7.0),(185,7.8),(186,6.6),(188,8.1),(189,7.2),(191,6.9),(192,7.7),(194,8.3),(195,7.4),(197,6.6),(198,7.9),(200,8.6),(201,7.1),(203,8.8),(204,8.4),(206,7.5),(207,6.4),(209,7.2),(210,5.8),(212,6.6),(213,1.8),(215,6.1),(216,7.4),(218,5.4),(219,6.9),(221,7.6),(222,5.0),(224,6.3),(225,3.5),(227,7.0),(228,5.7),(230,6.7),(231,4.6),(233,3.4),(234,6.0),
 (236,5.5),(237,4.8),(239,5.2),(240,3.9),(242,4.6),(243,5.8),(245,4.2),(246,3.2),(248,4.9),(249,2.8),(251,4.0),(252,3.4),(254,4.4),(255,2.5),(257,3.7),(258,1.6),(260,3.1),(261,2.1),(263,3.4),(264,2.6),(266,1.4),(267,2.9),(269,2.2),(270,3.1),(272,1.7),(273,2.5),(275,1.2),(276,2.2),(278,1.6),(279,0.8),(281,1.9),(282,1.3),(284,0.6),(285,1.5),(287,1.0),(288,0.4),(290,1.2),(291,0.7),(293,0.3),(294,0.9),(296,0.5),(297,0.2),(299,0.6),
 (301,0.3),(303,0.5),(305,0.2),(307,0.6),(309,0.3),(311,0.8),(313,0.4),(315,0.2),(317,0.7),(319,0.4),(321,1.0),(323,0.5),(325,0.8),(327,0.3),(329,1.1),(331,0.6),(333,0.9),(335,0.4),(337,0.7),(339,0.3),(341,0.6),(343,0.2),(345,0.5),(347,0.9),(349,0.3)]
SODA_LINE = [(5,35),(15,32),(25,20),(None,None),(70,3),(90,3),(110,5),(120,10),(128,20),(133,27),(140,34),(146,27),(158,44),(171,54),(189,64),(202,74),(211,74),(223,69),(227,74),(236,57),(239,50),(251,52),(264,44),(273,44),(286,40),(292,32),(298,30),(317,13),(332,15),(338,20)]
SODA_ARROWS = []

HYYT_PTS = [(2,0.3),(4,0.8),(6,0.5),(8,0.2),(10,0.7),(12,0.4),(14,1.0),(16,0.3),(18,0.6),(20,0.2),(22,0.9),(24,0.5),(26,0.3),(28,0.8),(30,0.4),(32,1.1),(34,0.6),(36,0.3),(38,0.8),(40,0.5),(42,0.2),(44,0.7),(46,0.4),(48,1.0),(50,0.6),(52,0.3),(54,0.8),(56,1.2),(58,0.5),(60,0.9),(62,0.4),(64,1.1),(66,0.6),(68,1.4),(70,0.8),
 (72,1.3),(74,0.9),(76,1.6),(78,1.1),(80,1.9),(82,1.4),(84,2.2),(86,1.7),(88,2.5),(90,2.0),(92,2.8),(94,2.3),(96,3.0),(98,2.6),(100,3.3),(102,2.8),(104,3.6),(106,3.1),(108,3.9),(110,4.3),(112,3.5),(114,4.7),(116,4.0),(118,5.1),(120,4.5),(122,5.4),(124,1.3),(125,4.9),(127,5.8),(128,6.5),(130,5.5),(131,6.9),(133,6.1),(134,7.3),(136,5.8),(137,6.6),(139,7.6),
 (140,8.1),(142,7.0),(143,8.5),(145,7.6),(146,9.0),(148,8.2),(149,7.3),(151,8.8),(152,9.4),(154,7.9),(155,8.6),(157,9.2),(158,7.5),(160,8.4),(161,9.7),(163,8.0),(164,8.9),(166,9.3),(167,7.7),(169,8.5),(170,9.1),(172,7.6),(173,8.3),(174,1.5),(175,9.0),(177,7.9),(178,8.7),(180,9.4),(181,7.3),(183,8.2),(184,9.0),(186,7.8),(187,8.6),(189,9.5),(190,8.0),(192,10.2),(193,8.9),(195,9.7),(196,8.4),(198,10.5),(199,9.2),(200,10.8),
 (201,9.6),(203,10.0),(204,8.7),(205,4.5),(206,9.4),(207,8.2),(209,9.9),(210,8.8),(211,5.2),(212,9.3),(213,7.6),(215,8.5),(216,9.7),(218,8.1),(219,7.2),(221,8.9),(222,7.8),(224,8.4),(225,6.9),(227,7.6),(228,8.6),(230,7.1),(231,6.4),(233,7.8),(234,6.8),(236,7.3),(237,6.1),(239,7.0),(240,6.5),(242,5.8),(243,6.9),(245,6.2),(246,5.5),(248,6.6),(249,5.1),
 (251,6.0),(252,5.4),(254,4.8),(255,5.7),(257,4.4),(258,5.3),(260,4.1),(261,4.9),(263,3.8),(264,4.5),(266,3.5),(267,4.2),(269,3.9),(270,3.2),(272,3.6),(273,2.9),(275,3.3),(276,2.6),(278,3.1),(279,2.3),(281,2.8),(282,2.0),(284,2.5),(285,1.7),(287,2.2),(288,1.5),(290,1.9),(291,1.2),(293,1.6),(294,0.9),(296,1.3),(297,0.7),(299,1.0),
 (301,0.6),(303,0.9),(305,0.4),(307,0.7),(309,0.3),(311,0.6),(313,0.2),(315,0.5),(317,0.3),(319,0.6),(321,0.2),(323,0.4),(325,0.3),(327,0.5),(329,0.2),(331,0.4),(333,0.3),(335,0.2),(352,0.4),(354,0.2),(356,0.5),(358,0.3)]
HYYT_LINE = [(5,15),(12,8),(22,5),(34,13),(47,18),(59,5),(68,7),(78,15),(90,24),(102,29),(115,39),(127,52),(140,61),(152,62),(164,66),(177,66),(189,72),(196,79),(202,89),(208,72),(214,82),(223,76),(233,72),(242,62),(251,52),(264,47),(273,42),(286,35),(298,29),(310,22),(320,18),(327,12),(332,2)]
HYYT_ARROWS = []

LOOB_PTS = [(2,0.6),(3,1.5),(5,0.2),(6,2.4),(8,0.9),(9,1.8),(11,0.4),(12,2.7),(14,1.2),(15,0.3),(17,2.0),(18,0.8),(20,1.5),(21,3.1),(23,0.5),(24,1.9),(26,1.1),(27,2.6),(29,0.2),(30,1.6),(32,2.2),(33,0.7),(35,1.3),(36,2.9),(38,0.4),(39,1.8),(41,2.5),(42,1.0),(44,3.2),(45,1.5),(47,0.6),(48,2.1),(50,2.8),(51,1.2),(53,3.4),(54,1.7),(56,0.8),(57,2.4),(59,3.0),(60,1.4),(62,2.0),(63,0.9),(65,2.7),(66,3.5),(68,1.6),(69,2.3),(71,1.1),(72,3.0),(74,1.9),(75,2.6),(77,0.7),(78,3.3),(80,2.1),(81,1.4),(83,2.8),(84,3.6),(86,1.8),(87,2.5),(89,3.2),(90,1.2),(92,2.7),(93,3.9),(95,2.0),(96,4.3),(98,3.1),(99,4.8),
 (101,3.6),(102,2.5),(104,4.5),(105,3.3),(107,5.0),(108,2.9),(110,4.2),(111,5.4),(113,3.8),(114,4.9),(116,5.8),(117,4.4),(119,6.2),(120,5.2),(122,6.6),(123,5.6),(125,7.0),(126,6.1),(128,7.4),(129,8.3),(130,8.1),(131,6.8),(133,7.7),(134,6.4),(136,8.4),(137,7.1),(139,4.3),(140,7.8),(142,8.8),(143,7.2),(145,8.2),(146,6.5),(148,9.0),(149,7.5),(150,3.4),
 (151,8.6),(152,10.3),(154,9.4),(155,7.9),(156,10.6),(158,9.0),(159,8.2),(161,10.1),(162,9.5),(164,8.5),(165,10.4),(167,9.2),(168,7.8),(170,9.8),(171,8.8),(173,10.5),(174,9.3),(176,8.1),(177,9.9),(179,8.7),(180,10.2),(182,9.1),(183,7.6),(185,9.6),(186,8.4),(188,10.0),(189,8.9),(191,7.4),(192,9.4),(194,8.3),(195,5.1),(196,10.4),(197,9.0),(199,7.9),(200,10.7),(202,9.5),(203,8.6),(205,10.8),(206,9.8),(208,8.1),(209,10.3),(211,9.2),(212,7.7),(214,9.6),(215,8.5),(217,10.0),(218,9.0),(220,7.3),(221,8.8),(223,9.7),(224,7.9),(226,8.6),(227,6.8),(229,8.2),(230,10.9),(232,7.5),(233,5.0),(235,8.9),(236,7.1),(238,8.0),(239,6.5),
 (241,7.6),(242,6.1),(244,8.3),(245,5.4),(247,7.0),(248,6.2),(250,4.7),(251,6.7),(253,5.6),(254,3.7),(256,6.4),(257,5.0),(259,7.1),(260,4.5),(262,6.0),(263,3.9),(265,5.5),(266,6.8),(268,4.2),(269,5.1),(271,3.4),(272,5.8),(274,4.6),(275,7.4),(277,3.8),(278,5.3),(280,6.3),(281,4.0),(283,2.9),(284,5.0),(286,3.5),(287,4.4),(289,6.0),(290,3.1),(292,4.7),(293,2.6),(295,5.4),(296,3.7),(298,4.1),(299,2.4),
 (301,4.8),(302,3.3),(304,1.2),(305,3.9),(307,2.8),(308,4.4),(310,2.2),(311,3.5),(313,1.7),(314,3.0),(316,4.1),(317,2.0),(319,3.2),(320,1.4),(322,2.6),(323,3.7),(325,1.8),(326,2.9),(328,0.8),(329,2.3),(331,3.3),(332,1.5),(334,2.5),(335,0.6),(337,1.9),(338,3.0),(340,1.1),(341,2.2),(343,0.4),(344,1.6),(346,2.7),(347,0.9),(349,1.4),(350,2.3),(352,0.5),(353,1.7),(355,1.0),(356,2.0),(358,0.3),(359,1.2),(361,0.7),(362,2.5),(364,0.4)]
LOOB_LINE = [(3,62),(10,45),(16,27),(22,45),(28,62),(37,44),(47,55),(59,51),(71,51),(84,56),(96,62),(109,56),(121,65),(133,72),(140,68),(146,58),(155,79),(164,106),(171,99),(180,75),(189,94),(199,126),(205,109),(211,103),(220,116),(230,109),(236,96),(242,110),(247,135),(251,140),(258,144),(264,133),(270,142),(279,123),(289,89),(295,80),(301,89),(310,130),(317,133),(326,92),(332,72),(338,75),(341,77),(348,55),(354,79)]
LOOB_ARROWS = []

HESS_PTS = [(2,1.1),(4,0.2),(6,0.5),(8,0.3),(10,0.7),(12,0.4),(14,0.2),(16,0.6),(18,0.3),(20,0.8),(22,0.4),(24,0.2),(26,0.5),(28,0.7),(30,0.3),(32,0.6),(34,0.2),(36,0.4),(38,0.8),(40,0.5),(42,0.3),(44,0.6),(46,0.9),(48,0.4),(50,0.2),(52,0.7),(54,0.5),(56,1.0),(58,0.3),(60,0.6),(62,0.4),(64,0.8),(66,0.5),(68,1.1),(70,0.6),(72,0.3),(74,0.9),(76,1.3),(78,0.7),(80,1.0),(82,0.5),(84,0.8),(86,1.2),(88,0.6),
 (90,1.4),(92,0.9),(94,1.6),(96,1.2),(98,1.9),(100,1.5),(102,1.8),(104,1.3),(106,2.0),(108,1.7),(110,2.3),(112,2.0),(114,2.8),(116,3.3),(118,2.6),(119,3.9),(120,3.4),(121,4.2),(122,2.2),(123,4.8),(124,3.8),(125,9.5),(126,7.6),(127,5.2),(128,9.7),(129,6.2),(130,9.1),(131,6.8),(132,9.7),(133,8.1),(134,10.0),(135,6.3),(136,11.0),(137,8.9),(138,12.0),(139,10.3),(140,7.8),
 (141,13.0),(142,11.4),(143,4.7),(144,16.3),(145,16.0),(146,13.4),(147,13.9),(148,12.2),(149,11.0),(150,14.3),(151,15.2),(152,12.6),(153,10.5),(154,13.1),(155,4.4),(156,11.7),(157,14.6),(158,12.9),(159,10.8),(160,12.2),(161,13.7),(162,11.5),(163,15.6),(164,12.8),(165,17.1),(166,11.0),(167,13.5),(168,16.2),(169,12.3),(170,14.1),(171,10.6),(172,13.2),(173,15.0),(174,11.9),(175,13.8),(176,12.6),(177,16.4),(178,11.3),(179,14.4),(180,15.8),(181,12.1),(182,13.6),(183,10.9),(184,14.9),(185,12.4),(186,11.6),(187,16.6),(188,13.0),(189,11.0),(190,15.1),(191,12.7),(192,10.4),(193,13.9),(194,11.8),(195,12.5),(196,3.8),(197,14.7),(198,16.0),(199,11.3),
 (200,13.3),(201,10.8),(202,12.0),(203,14.0),(204,11.5),(205,13.7),(206,10.2),(207,12.4),(208,11.1),(209,9.4),(210,13.2),(211,10.6),(212,11.8),(213,9.0),(214,12.6),(215,10.3),(216,11.4),(217,9.6),(218,12.8),(219,10.9),(220,8.7),(221,11.7),(222,9.9),(223,12.3),(224,10.5),(225,8.9),(226,11.0),(227,12.5),(228,9.3),(229,10.7),(230,11.6),(231,8.4),(232,10.1),(233,11.3),(234,7.6),(235,9.8),(236,10.9),(237,8.8),(238,11.5),(239,9.5),(240,10.3),(241,8.1),(242,9.2),(243,10.6),(244,14.0),(245,9.0),(246,10.2),(247,8.6),(248,11.2),(249,9.7),(250,8.3),(251,9.9),(252,10.4),(253,8.0),(254,9.4),
 (255,8.7),(256,9.6),(257,7.8),(258,9.1),(259,8.2),(260,9.8),(261,7.5),(262,8.8),(263,7.9),(264,9.0),(265,8.4),(266,6.9),(267,7.7),(268,2.4),(269,7.1),(270,6.4),(271,7.3),(272,5.8),(273,6.6),(274,5.2),(275,6.0),(276,5.5),(277,4.9),(278,6.2),(279,4.6),(280,5.3),(281,4.2),(282,4.9),(283,3.8),(284,4.5),(285,3.3),(286,5.2),(287,3.9),(288,2.9),(289,4.1),(290,3.2),(291,2.5),(292,3.7),(293,2.0),(294,2.8),(295,1.5),(296,2.3),(297,1.1),(298,1.8),(299,0.7),
 (300,1.5),(302,0.9),(304,1.3),(306,0.6),(308,1.6),(310,1.0),(312,0.4),(314,1.2),(316,0.7),(318,1.4),(320,0.5),(322,0.9),(324,1.3),(326,0.4),(328,0.8),(330,1.1),(332,0.3),(334,0.7),(336,0.5),(338,0.9),(340,0.3),(342,0.6),(344,0.4),(346,0.2),(348,0.5),(350,0.3),(352,0.6),(354,0.2),(356,0.4),(358,0.1),(360,0.3),(362,0.2)]
HESS_LINE = [(0,3),(30,3),(60,4),(80,5),(92,7),(104,12),(113,24),(119,35),(123,50),(129,59),(135,71),(139,94),(143,126),(147,141),(151,118),(155,79),(158,74),(162,79),(168,82),(174,85),(182,106),(186,109),(190,88),(196,74),(201,82),(207,91),(213,94),(219,82),(227,63),(233,76),(239,97),(245,100),(252,88),(262,71),(270,59),(278,50),(288,38),(295,24),(299,12),(311,6),(335,3),(360,1)]
HESS_ARROWS = []

# (row, col, site label, vegetation label, day where veg label starts, GPP axis max, points, line, arrows)
PANELS = [
    (0, 0, "Jokioinen<br>2002", "Meadow<br>Finland", 262, 20, JOK02_PTS, JOK02_LINE, JOK02_ARROWS),
    (0, 1, "Jokioinen<br>2001", "Barley<br>Finland", 270, 20, JOK01_PTS, JOK01_LINE, JOK01_ARROWS),
    (0, 2, "Oensingen<br>2004", "Meadow<br>Switzerland", 226, 20, OENS_PTS, OENS_LINE, OENS_ARROWS),
    (0, 3, "Lonzee<br>2004", "Sugar beet<br>Belgium", 229, 20, LONZ_PTS, LONZ_LINE, LONZ_ARROWS),
    (1, 0, "Kaamanen<br>2001", "Fen<br>Finland", 266, 20, KAAM_PTS, KAAM_LINE, KAAM_ARROWS),
    (1, 1, "Rzecin<br>2004", "Wetland<br>Poland", 251, 20, RZEC_PTS, RZEC_LINE, RZEC_ARROWS),
    (1, 2, "Grillenburg<br>2004", "Meadow<br>Germany", 254, 20, GRIL_PTS, GRIL_LINE, GRIL_ARROWS),
    (1, 3, "Gebesee<br>2004", "Rapeseed<br>Germany", 246, 20, GEBE_PTS, GEBE_LINE, GEBE_ARROWS),
    (2, 0, "Petsikko<br>1996", "Birch<br>forest<br>Finland", 272, 25, PETS_PTS, PETS_LINE, PETS_ARROWS),
    (2, 1, "Tharandt<br>2001", "Spruce forest<br>Germany", 190, 20, THAR_PTS, THAR_LINE, THAR_ARROWS),
    (2, 2, "Vielsalm<br>2002", "Mixed forest<br>Belgium", 174, 20, VIEL_PTS, VIEL_LINE, VIEL_ARROWS),
    (2, 3, "Collelongo<br>2001", "Beech forest<br>Italy", 180, 20, COLL_PTS, COLL_LINE, COLL_ARROWS),
    (3, 0, "Sodankylä<br>2001", "Pine forest<br>Finland", 211, 20, SODA_PTS, SODA_LINE, SODA_ARROWS),
    (3, 1, "Hyytiälä<br>2002", "Pine forest<br>Finland", 208, 20, HYYT_PTS, HYYT_LINE, HYYT_ARROWS),
    (3, 2, "Loobos<br>2001", "Pine forest<br>Netherlands", 202, 20, LOOB_PTS, LOOB_LINE, LOOB_ARROWS),
    (3, 3, "Hesse<br>2002", "Beech forest<br>France", 205, 20, HESS_PTS, HESS_LINE, HESS_ARROWS),
]

TICK_FONT = dict(family="Arial, Liberation Sans, sans-serif", size=14, color="black")
LABEL_FONT = dict(family="Arial, Liberation Sans, sans-serif", size=20, color="black", weight="bold")


def px_x(p):
    return p / W


def px_y(p):
    return 1 - p / H


def axname(prefix, n):
    return prefix if n == 1 else f"{prefix}{n}"


fig = go.Figure()
layout = dict(
    width=W, height=H, autosize=False,
    margin=dict(l=0, r=0, t=0, b=0),
    paper_bgcolor="white", plot_bgcolor="white",
    showlegend=False,
)
annotations = []

for i, (r, c, site, veg, veg_day, gmax, pts, line, arrows) in enumerate(PANELS):
    nx_g, nx_v, ny = 2 * i + 1, 2 * i + 2, i + 1
    xg, xv, yy = axname("x", nx_g), axname("x", nx_v), axname("y", ny)
    left, right = COLS_PX[c]
    top, bottom = ROWS_PX[r]

    axis_common = dict(showgrid=False, zeroline=False, showline=True, linecolor="black",
                       linewidth=1.5, ticks="outside", ticklen=5, tickwidth=1.2,
                       tickcolor="black", tickfont=TICK_FONT, tickangle=-90, fixedrange=True)
    layout[axname("xaxis", nx_g)] = dict(axis_common, domain=[px_x(left), px_x(right)],
                                         anchor=yy, side="bottom", range=[gmax, 0],
                                         tickvals=list(range(0, gmax + 1, 5)))
    layout[axname("xaxis", nx_v)] = dict(axis_common, overlaying=xg, anchor=yy, side="top",
                                         range=[gmax * 10, 0],
                                         tickvals=list(range(0, gmax * 10 + 1, 50)))
    layout[axname("yaxis", ny)] = dict(axis_common, domain=[px_y(bottom), px_y(top)],
                                       anchor=xg, side="right", range=[0, DAY_MAX],
                                       tickvals=DAY_TICKS, mirror=True, linewidth=2)

    fig.add_trace(go.Scatter(
        x=[p[1] for p in pts], y=[p[0] for p in pts], xaxis=xg, yaxis=yy,
        mode="markers", cliponaxis=True,
        marker=dict(symbol="circle", size=7, color="white",
                    line=dict(color="black", width=0.9)),
        hoverinfo="skip"))
    fig.add_trace(go.Scatter(
        x=[p[1] for p in line], y=[p[0] for p in line], xaxis=xv, yaxis=yy,
        mode="lines", line=dict(color="black", width=2.2, shape="spline", smoothing=0.8),
        connectgaps=False, hoverinfo="skip"))

    annotations.append(dict(text=site, xref="paper", x=px_x(left + 3), yref=yy, y=4,
                            xanchor="left", yanchor="bottom", textangle=-90, align="left",
                            showarrow=False, font=LABEL_FONT))
    annotations.append(dict(text=veg, xref="paper", x=px_x(left + 3), yref=yy, y=veg_day,
                            xanchor="left", yanchor="bottom", textangle=-90, align="left",
                            showarrow=False, font=LABEL_FONT))
    for day, tail, head in arrows:
        annotations.append(dict(text="", xref=xg, yref=yy, x=head, y=day,
                                axref=xg, ayref=yy, ax=tail, ay=day,
                                showarrow=True, arrowhead=2, arrowsize=1.3,
                                arrowwidth=1.3, arrowcolor="black"))

TITLE_FONT = dict(family="Arial, Liberation Sans, sans-serif", size=20, color="black", weight="bold")
annotations.append(dict(text="Day of year", xref="paper", yref="paper",
                        x=px_x(1178), y=px_y(815), xanchor="center", yanchor="middle",
                        textangle=-90, showarrow=False, font=TITLE_FONT))
annotations.append(dict(text="Daily GPP (g C m<sup>−2</sup> day<sup>−1</sup>)", xref="paper", yref="paper",
                        x=px_x(585), y=px_y(1680), xanchor="center", yanchor="middle",
                        textangle=180, showarrow=False, font=TITLE_FONT))
annotations.append(dict(text="Vc<sub>uptake1</sub>* (μmol CO<sub>2</sub> m<sup>−2</sup> leaf area s<sup>−1</sup>)",
                        xref="paper", yref="paper",
                        x=px_x(569), y=px_y(24), xanchor="center", yanchor="middle",
                        textangle=180, showarrow=False, font=TITLE_FONT))

layout["annotations"] = annotations
fig.update_layout(**layout)
fig.write_html("out.html")
